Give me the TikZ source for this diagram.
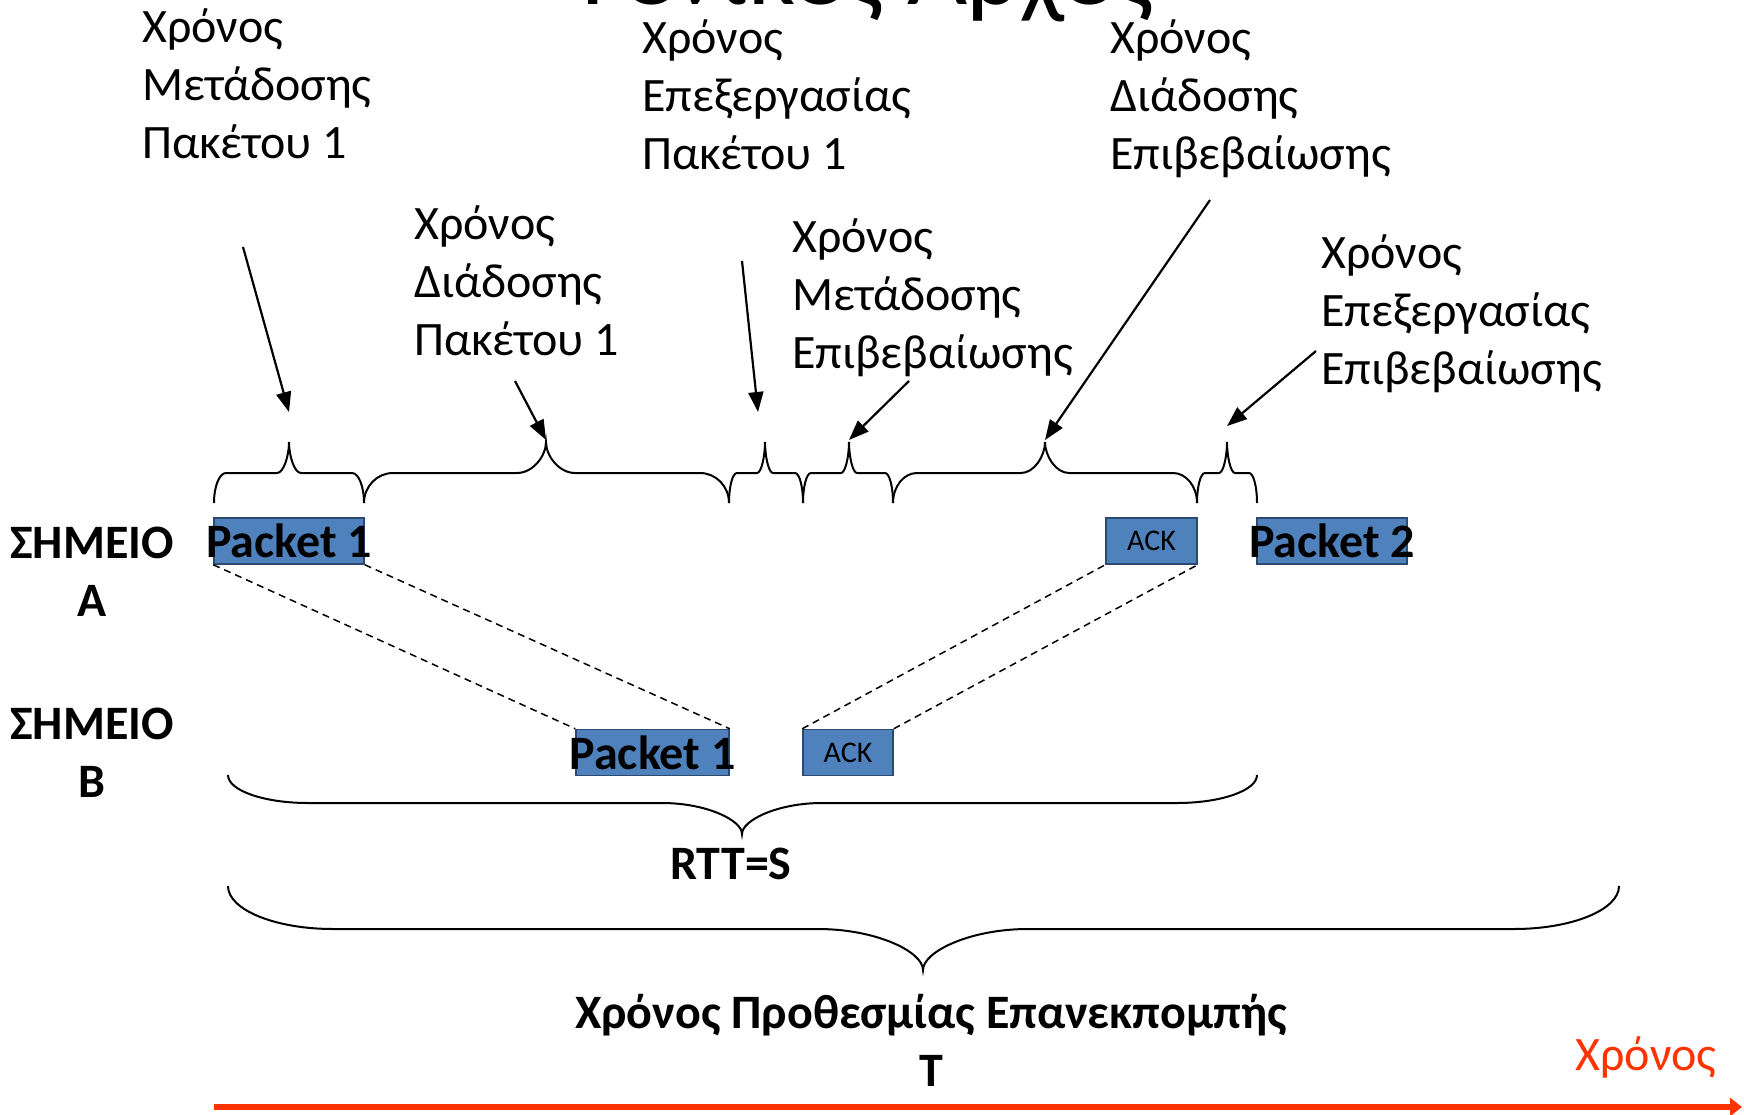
\documentclass[tikz,border=0pt]{standalone}
\usepackage{fontspec}
\setmainfont{Carlito}
\usetikzlibrary{arrows.meta}
\definecolor{boxblue}{HTML}{4F81BD}
\definecolor{boxedge}{HTML}{2C4A70}
\definecolor{timered}{HTML}{FF3300}
\newcommand{\curlyb}[7]{%
  \draw[brc] (#1,#4) .. controls (#1,{#4-0.552*(#4-#5)}) and ({#1+0.448*#7},#5) .. ({#1+#7},#5)
    -- ({#3-#7},#5) .. controls ({#3-0.448*#7},#5) and (#3,{#5-0.552*(#5-#6)}) .. (#3,#6)
    .. controls (#3,{#5-0.552*(#5-#6)}) and ({#3+0.448*#7},#5) .. ({#3+#7},#5)
    -- ({#2-#7},#5) .. controls ({#2-0.448*#7},#5) and (#2,{#4-0.552*(#4-#5)}) .. (#2,#4);}

\begin{document}
\begin{tikzpicture}[x=1pt,y=-1pt,
    lbl/.style={anchor=north west,align=left,inner sep=0pt,font=\fontsize{48}{58}\selectfont},
    bigb/.style={inner sep=0pt,align=center,font=\fontsize{48}{58}\selectfont\bfseries},
    pkt/.style={draw=boxedge,line width=1.5pt,fill=boxblue,inner sep=0pt,minimum height=46pt},
    pkttxt/.style={inner sep=0pt,font=\fontsize{48}{58}\selectfont\bfseries},
    acktxt/.style={font=\fontsize{30}{36}\selectfont},
    ptr/.style={line width=2.2pt,-{Triangle[length=20pt,width=15pt]}},
    brc/.style={line width=2pt},
    link/.style={line width=1.5pt,dash pattern=on 7pt off 5pt},
    timeaxis/.style={line width=6pt,timered,-{Triangle[length=12pt,width=18pt]}}]
    \useasboundingbox (0,0) rectangle (1744,1115);
    \clip (0,0) rectangle (1744,1115);
    \fill[white] (0,0) rectangle (1744,1115);

    \node[anchor=base,inner sep=0pt,font=\fontsize{104}{120}\selectfont] (title) at (868,5) {Γενικές Αρχές};

    \node[lbl] (tx1) at (142,9) {Χρόνος\\Μετάδοσης\\Πακέτου 1};
    \node[lbl] (tx2) at (414,206) {Χρόνος\\Διάδοσης\\Πακέτου 1};
    \node[lbl] (tx3) at (642,20) {Χρόνος\\Επεξεργασίας\\Πακέτου 1};
    \node[lbl] (tx4) at (792,219) {Χρόνος\\Μετάδοσης\\Επιβεβαίωσης};
    \node[lbl] (tx5) at (1110,20) {Χρόνος\\Διάδοσης\\Επιβεβαίωσης};
    \node[lbl] (tx6) at (1321,235) {Χρόνος\\Επεξεργασίας\\Επιβεβαίωσης};

    \coordinate (s1) at (243,247);  \coordinate (e1) at (289,412);
    \coordinate (s2) at (515,381);  \coordinate (e2) at (546,440);
    \coordinate (s3) at (742,261);  \coordinate (e3) at (758,412);
    \coordinate (s4) at (909,381);  \coordinate (e4) at (849,440);
    \coordinate (s5) at (1210,200); \coordinate (e5) at (1045,440);
    \coordinate (s6) at (1316,351); \coordinate (e6) at (1227,426);
    \foreach \i in {1,...,6} \draw[ptr] (s\i) -- (e\i);

    \foreach \a/\b/\m/\r in {214/364/289/12,364/729/546/29,729/803/765/8,803/893/849/8,893/1197/1045/24,1197/1257/1227/8}
      \curlyb{\a}{\b}{\m}{503}{473}{442}{\r};

    \node[bigb] (pta) at (92,572) {ΣΗΜΕΙΟ\\Α};
    \node[bigb] (ptb) at (92,753) {ΣΗΜΕΙΟ\\Β};

    \node[pkt,minimum width=150pt,label={[pkttxt]center:Packet 1}] (p1a) at (289,541) {};
    \node[pkt,minimum width=91pt,acktxt] (acka) at (1151.5,541) {ACK};
    \node[pkt,minimum width=150pt,label={[pkttxt]center:Packet 2}] (p2a) at (1332,541) {};
    \node[pkt,minimum width=153pt,label={[pkttxt]center:Packet 1}] (p1b) at (652.5,752.5) {};
    \node[pkt,minimum width=90pt,acktxt] (ackb) at (848,752.5) {ACK};

    \draw[link] (p1a.south west) -- (p1b.north west);
    \draw[link] (p1a.south east) -- (p1b.north east);
    \draw[link] (ackb.north west) -- (acka.south west);
    \draw[link] (ackb.north east) -- (acka.south east);

    \curlyb{228}{1257}{742}{775}{803}{834}{80}
    \node[bigb] (rtt) at (731,864) {RTT=S};
    \curlyb{228}{1619}{923}{886}{929}{970}{105}
    \node[bigb] (rto) at (931,1040) {Χρόνος Προθεσμίας Επανεκπομπής\\T};

    \coordinate (ax0) at (214,1107);
    \coordinate (ax1) at (1742,1107);
    \draw[timeaxis] (ax0) -- (ax1);
    \node[font=\fontsize{48}{58}\selectfont,text=timered,inner sep=0pt] (axl) at (1646,1057) {Χρόνος};
\end{tikzpicture}
\end{document}
